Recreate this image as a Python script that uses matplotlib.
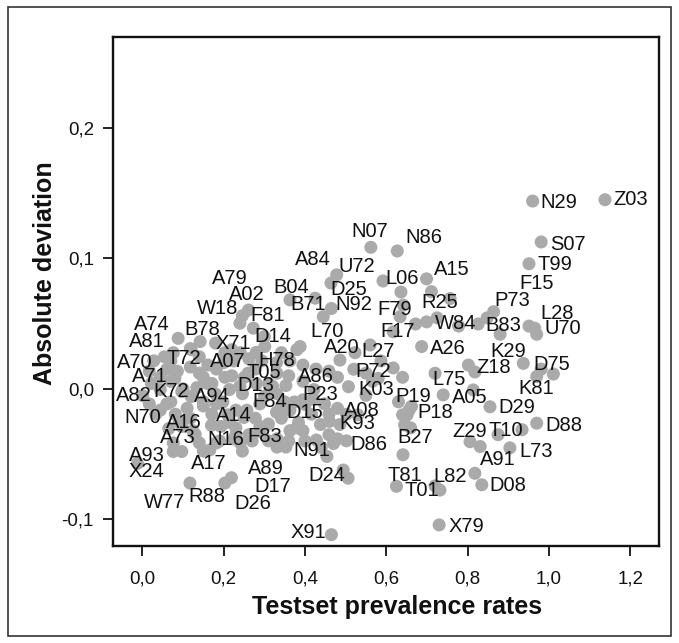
import matplotlib
matplotlib.use("Agg")
import matplotlib.pyplot as plt
from matplotlib.patches import Rectangle
from matplotlib.ticker import FixedLocator, FuncFormatter

plt.rcParams['font.family'] = ['Liberation Sans', 'DejaVu Sans']
plt.rcParams['axes.unicode_minus'] = False

# ---- data: labelled items ----
codes = ["Z03", "N29", "S07", "T99", "F15", "L28", "U70", "P73", "B83", "W84",
         "R25", "A15", "L06", "N86", "N07", "U72", "A84", "N92", "D25", "B71",
         "B04", "F79", "F17", "A79", "A02", "W18", "F81", "A74", "B78", "A81",
         "X71", "D14", "L70", "A20", "L27", "A26", "K29", "Z18", "D75", "K81",
         "L75", "A05", "D29", "D88", "T10", "Z29", "L73", "A91", "D08", "L82",
         "T01", "T81", "B27", "X79", "X91", "D24", "N91", "D86", "K93", "A08",
         "P18", "P19", "K03", "P72", "A86", "P23", "D15", "F84", "D13", "T05",
         "H78", "A07", "T72", "A70", "A71", "A82", "K72", "A94", "A14", "N70",
         "A16", "A73", "N16", "F83", "A93", "X24", "A17", "A89", "D17", "D26",
         "R88", "W77"]
prevalence = [1.138, 0.960, 0.981, 0.951, 0.951, 0.965, 0.970, 0.864, 0.880, 0.699,
              0.757, 0.699, 0.592, 0.627, 0.562, 0.478, 0.464, 0.465, 0.445, 0.425,
              0.363, 0.642, 0.617, 0.261, 0.246, 0.240, 0.273, 0.088, 0.142, 0.054,
              0.241, 0.301, 0.388, 0.486, 0.560, 0.687, 0.937, 0.802, 0.981, 0.970,
              0.720, 0.740, 0.855, 0.970, 0.875, 0.806, 0.904, 0.831, 0.835, 0.732,
              0.720, 0.625, 0.641, 0.730, 0.465, 0.494, 0.454, 0.502, 0.486, 0.502,
              0.651, 0.662, 0.507, 0.617, 0.395, 0.395, 0.363, 0.342, 0.310, 0.331,
              0.342, 0.182, 0.118, 0.028, 0.044, 0.001, 0.097, 0.182, 0.230, 0.044,
              0.118, 0.076, 0.230, 0.289, 0.076, -0.012, 0.166, 0.310, 0.331, 0.219,
              0.203, 0.117]
deviation = [0.1450, 0.1440, 0.1126, 0.0959, 0.0481, 0.0465, 0.0418, 0.0591, 0.0418, 0.0513,
             0.0692, 0.0843, 0.0827, 0.1057, 0.1085, 0.0874, 0.0811, 0.0616, 0.0553, 0.0695,
             0.0682, 0.0642, 0.0437, 0.0604, 0.0560, 0.0503, 0.0465, 0.0387, 0.0362, 0.0245,
             0.0277, 0.0324, 0.0324, 0.0220, 0.0336, 0.0324, 0.0195, 0.0182, 0.0151, 0.0094,
             0.0119, -0.0047, -0.0138, -0.0264, -0.0352, -0.0406, -0.0453, -0.0443, -0.0736, -0.0777,
             -0.0745, -0.0748, -0.0506, -0.1044, -0.1119, -0.0623, -0.0519, -0.0399, -0.0274, -0.0195,
             -0.0201, -0.0135, 0.0016, 0.0160, 0.0057, -0.0085, -0.0164, -0.0132, 0.0041, 0.0119,
             0.0277, 0.0151, 0.0167, 0.0214, 0.0088, -0.0053, -0.0022, -0.0116, -0.0164, -0.0164,
             -0.0226, -0.0415, -0.0352, -0.0289, -0.0481, -0.0572, -0.0469, -0.0399, -0.0447, -0.0682,
             -0.0723, -0.0723]

# ---- data: unlabelled items ----
other_prevalence = [0.070, 0.086, 0.017, 0.022, 0.044, 0.070, 0.017, 0.033, 0.060, 0.081,
                    0.097, 0.124, 0.140, 0.065, 0.097, 0.140, 0.161, 0.150, 0.134, 0.171,
                    0.203, 0.214, 0.198, 0.150, 0.171, 0.193, 0.214, 0.241, 0.246, 0.262,
                    0.278, 0.257, 0.289, 0.246, 0.278, 0.262, 0.294, 0.310, 0.331, 0.342,
                    0.363, 0.384, 0.395, 0.416, 0.438, 0.459, 0.480, 0.422, 0.448, 0.459,
                    0.374, 0.353, 0.363, 0.395, 0.427, 0.459, 0.480, 0.225, 0.203, 0.251,
                    0.848, 0.826, 0.672, 0.725, 0.778, 0.711, 0.636, 0.634, 0.587, 0.640,
                    0.818, 1.011, 0.934, 0.818, 0.506, 0.428, 0.645, 0.814, 0.656, 0.523,
                    0.118, 0.076, 0.150, 0.182, 0.331, 0.353, 0.566, 0.225,
                    0.060, 0.080, 0.100, 0.120, 0.140, 0.160, 0.180, 0.200, 0.220, 0.240,
                    0.260, 0.280, 0.300, 0.320, 0.070, 0.090, 0.110, 0.130, 0.150, 0.170,
                    0.190, 0.210, 0.230, 0.250, 0.270, 0.290, 0.310, 0.330, 0.350, 0.360,
                    0.380, 0.400, 0.400, 0.420, 0.440, 0.460, 0.470, 0.480, 0.120, 0.180,
                    0.220, 0.300, 0.330, 0.360, 0.280, 0.380, 0.520, 0.550, 0.580, 0.640,
                    0.660, 0.630, 0.550, 0.530]
other_deviation = [0.0214, 0.0135, 0.0135, 0.0041, -0.0006, 0.0057, -0.0116, -0.0195, -0.0116, -0.0195,
                   -0.0289, -0.0321, -0.0415, -0.0305, -0.0481, 0.0245, 0.0182, 0.0088, 0.0009, 0.0041,
                   0.0088, -0.0006, -0.0101, -0.0132, -0.0195, -0.0289, -0.0258, -0.0415, -0.0478, -0.0352,
                   -0.0226, -0.0164, -0.0116, -0.0038, 0.0151, 0.0230, 0.0214, -0.0038, -0.0038, -0.0226,
                   -0.0321, -0.0258, -0.0321, -0.0195, -0.0274, -0.0352, -0.0384, -0.0006, -0.0116, -0.0195,
                   -0.0101, 0.0025, 0.0214, 0.0182, 0.0151, 0.0135, 0.0088, 0.0214, 0.0277, 0.0088,
                   0.0544, 0.0497, 0.0497, 0.0544, 0.0481, 0.0745, 0.0742, 0.0553, 0.0214, 0.0088,
                   0.0129, 0.0113, -0.0314, -0.0648, -0.0686, -0.0393, -0.0277, -0.0009, -0.0164, 0.0277,
                   0.0308, 0.0277, -0.0478, -0.0415, -0.0384, -0.0447, 0.0057, -0.0384,
                   0.0150, 0.0080, 0.0000, -0.0060, 0.0120, 0.0040, -0.0040, 0.0200, 0.0100, 0.0020,
                   0.0120, 0.0040, -0.0060, 0.0020, -0.0100, -0.0250, -0.0150, -0.0350, -0.0100, -0.0280,
                   -0.0400, -0.0200, -0.0300, -0.0220, -0.0400, -0.0330, -0.0270, -0.0180, -0.0100, -0.0400,
                   -0.0300, -0.0120, -0.0400, -0.0080, -0.0450, -0.0250, -0.0420, -0.0150, 0.0300, 0.0350,
                   0.0300, 0.0400, 0.0200, 0.0100, 0.0280, 0.0300, 0.0150, 0.0120, 0.0080, -0.0200,
                   -0.0300, -0.0100, -0.0050, -0.0200]

x_ticks = [0.0, 0.2, 0.4, 0.6, 0.8, 1.0, 1.2]
y_ticks = [-0.1, 0.0, 0.1, 0.2]

# ---- layout: label offsets from their point (pixels) ----
label_dx = [25.5, 26.0, 26.8, 26.4, 7.8, 22.9, 26.0, 18.6, 3.0, 29.0,
            -10.8, 25.1, 18.6, 26.8, -0.9, 20.3, -18.6, 22.5, 25.1, -6.9,
            0.9, -8.2, 4.3, -18.2, 4.3, -22.5, 14.3, -26.0, 2.6, -17.3,
            -6.5, 7.8, 26.8, 2.2, 7.8, 26.4, -14.7, 25.1, 10.8, 0.0,
            13.9, 26.4, 26.4, 26.8, 7.4, -0.4, 26.0, 17.7, 25.5, 10.4,
            -13.0, 8.2, 12.6, 27.3, -23.4, -16.5, -15.2, 22.9, 17.3, 15.2,
            28.1, 1.7, 27.3, -19.9, 13.0, 17.3, 15.2, -12.1, -13.0, -13.0,
            -4.3, 11.7, -6.5, -19.5, -10.8, -8.7, -10.8, -4.3, -2.2, -17.3,
            -6.5, 4.3, -10.0, 5.2, -26.0, 8.7, -1.3, -2.2, -4.3, 21.6,
            -18.2, -25.5]
label_dy = [0.0, -1.2, -2.5, -0.8, 42.2, 14.4, 6.2, 11.1, 9.0, -2.0,
            -4.1, 9.4, 2.9, 13.9, 15.6, 8.2, 23.4, 4.1, 27.5, -6.2,
            12.7, -4.5, 0.4, 31.2, 21.3, 14.8, 12.3, 13.5, 12.3, 15.2,
            9.0, 10.3, 15.2, 12.3, -6.6, -2.0, 11.5, -2.0, 4.9, -12.3,
            -6.2, -2.9, -1.2, -2.0, 4.1, 10.3, -3.3, -12.7, -1.2, 13.1,
            -4.1, 10.7, 17.2, -2.0, 2.5, -5.7, 6.2, -4.1, 1.2, 4.1,
            2.0, 9.4, -2.9, -3.3, 4.9, 5.3, -2.5, 4.1, -2.0, 0.8,
            -8.2, 7.4, 9.0, -2.0, 0.8, 0.0, 0.0, 7.0, -5.3, -7.4,
            -4.1, 4.9, -4.9, -10.3, -3.7, -8.2, -13.5, -27.9, -39.0, -25.8,
            -13.9, -19.3]

W, H = 679, 643
fig = plt.figure(figsize=(W / 100, H / 100), dpi=100)
ax = fig.add_axes([113.4 / W, 1 - 545.5 / H, 545.5 / W, 508.6 / H])

dot_color = '#aaaaaa'
ax.scatter(other_prevalence, other_deviation, s=88, color=dot_color, edgecolors='none', zorder=2)
ax.scatter(prevalence, deviation, s=88, color=dot_color, edgecolors='none', zorder=2)

for c, xv, yv, dx, dy in zip(codes, prevalence, deviation, label_dx, label_dy):
    ax.annotate(c, (xv, yv), xytext=(dx, dy), textcoords='offset pixels',
                ha='center', va='center', fontsize=14.5, color='#111111', zorder=3)

ax.set_xlim(-0.0713, 1.2706)
ax.set_ylim(-0.1202, 0.2699)
ax.xaxis.set_major_locator(FixedLocator(x_ticks))
ax.yaxis.set_major_locator(FixedLocator(y_ticks))
fmt = FuncFormatter(lambda v, p: ("%.1f" % v).replace('.', ',').replace('-0,0', '0,0'))
ax.xaxis.set_major_formatter(fmt)
ax.yaxis.set_major_formatter(fmt)
ax.tick_params(direction='out', length=7, width=1.3, labelsize=13.5, colors='#111111')
ax.tick_params(axis='x', pad=11)
ax.tick_params(axis='y', pad=7)
for sp in ax.spines.values():
    sp.set_linewidth(1.7)
    sp.set_color('#111111')

fig.text(396.6 / W, 1 - 607 / H, 'Testset prevalence rates', ha='center', va='center',
         fontsize=18, fontweight='bold', color='#111111')
fig.text(45 / W, 1 - 272.8 / H, 'Absolute deviation', ha='center', va='center',
         rotation=90, fontsize=18, fontweight='bold', color='#111111')

fig.patches.append(Rectangle((7.8 / W, 1 - 636 / H), (671 - 7.8) / W, (636 - 7.4) / H,
                             transform=fig.transFigure, fill=False, edgecolor='#333333',
                             linewidth=1.2))

fig.savefig('out.png', dpi=100)
